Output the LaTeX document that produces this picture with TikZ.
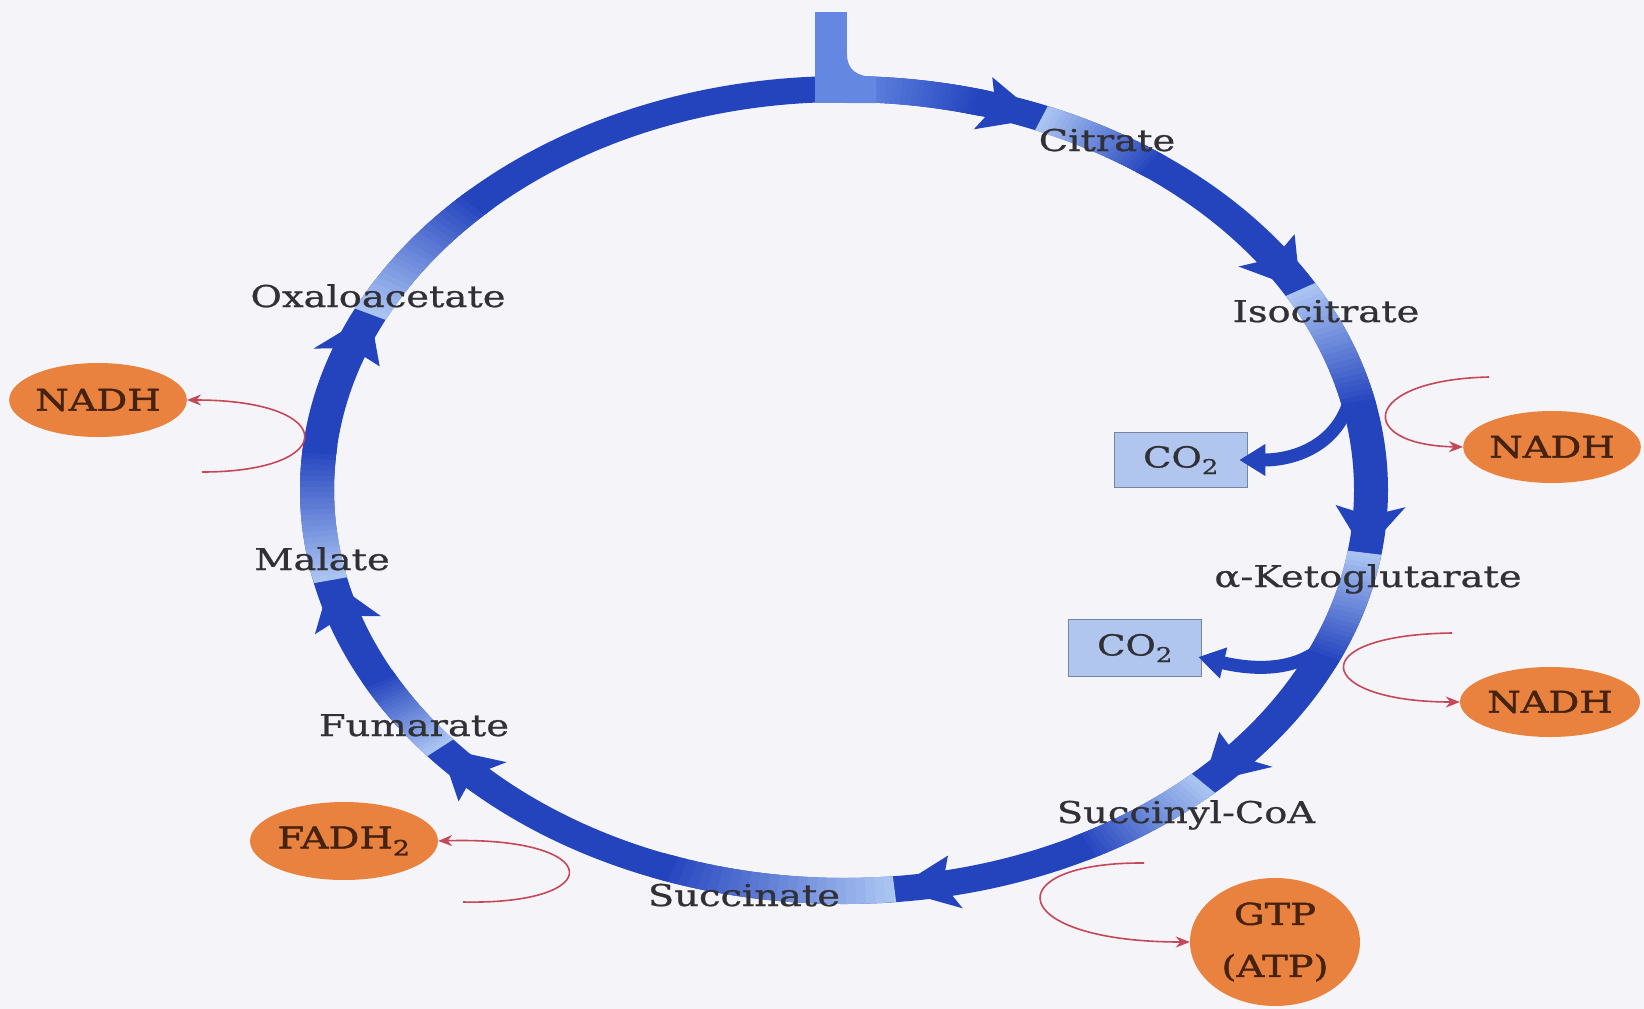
\documentclass[tikz,border=0pt]{standalone}
\usepackage{fontspec}
\setmainfont[FakeStretch=1.28, FakeBold=0.8]{DejaVu Serif}
\newfontfamily\carrierfont[FakeStretch=1.28, FakeBold=1.6]{DejaVu Serif}
\usetikzlibrary{calc,shapes.geometric,arrows.meta}

\definecolor{paper}{RGB}{245,245,249}
\definecolor{ringdark}{RGB}{36,68,190}
\definecolor{ringmid}{RGB}{100,136,225}
\definecolor{ringlight}{RGB}{170,196,242}
\definecolor{labelgray}{RGB}{48,48,54}
\definecolor{carrier}{RGB}{233,130,62}
\definecolor{carriertext}{RGB}{70,34,16}
\definecolor{gasfill}{RGB}{176,198,238}
\definecolor{gasedge}{RGB}{120,132,160}
\definecolor{redox}{RGB}{196,72,88}

% ring geometry: centre, radii of the centre line, half band widths
\def\RingCX{844}
\def\RingCY{490}
\def\RingRX{527}
\def\RingRY{401}
\def\RingHX{17}
\def\RingHY{13}

% one quadrilateral piece of the band between two angles
\newcommand{\ringpiece}[3]{%
  \fill[#3]
    ({\RingCX+(\RingRX+\RingHX)*cos(#1)},{\RingCY+(\RingRY+\RingHY)*sin(#1)}) --
    ({\RingCX+(\RingRX+\RingHX)*cos(#2)},{\RingCY+(\RingRY+\RingHY)*sin(#2)}) --
    ({\RingCX+(\RingRX-\RingHX)*cos(#2)},{\RingCY+(\RingRY-\RingHY)*sin(#2)}) --
    ({\RingCX+(\RingRX-\RingHX)*cos(#1)},{\RingCY+(\RingRY-\RingHY)*sin(#1)}) -- cycle;}

% colour fade along the band from angle #1 (colour #3) to angle #2 (colour #4)
\newcommand{\ringfade}[4]{%
  \foreach \k in {0,...,23} {
    \pgfmathsetmacro\ta{#1+(#2-#1)*\k/24}
    \pgfmathsetmacro\tb{#1+(#2-#1)*(\k+1.7)/24}
    \pgfmathtruncatemacro\pc{100*\k/23}
    \ringpiece{\ta}{\tb}{#4!\pc!#3}
  }}

% arrow head on the band, tip at angle #1
\newcommand{\ringhead}[1]{%
  \pgfmathsetmacro\tbk{#1-6.7}
  \pgfmathsetmacro\tnt{#1-5.3}
  \fill[ringdark]
    ({\RingCX+\RingRX*cos(#1)},{\RingCY+\RingRY*sin(#1)}) --
    ({\RingCX+(\RingRX+35)*cos(\tbk)},{\RingCY+(\RingRY+27)*sin(\tbk)}) --
    ({\RingCX+\RingRX*cos(\tnt)},{\RingCY+\RingRY*sin(\tnt)}) --
    ({\RingCX+(\RingRX-35)*cos(\tbk)},{\RingCY+(\RingRY-27)*sin(\tbk)}) -- cycle;}

\begin{document}
\begin{tikzpicture}[x=1pt,y=-1pt,
  lbl/.style={font=\fontsize{30}{36}\selectfont, text=labelgray, inner sep=0pt},
  carrierbox/.style={ellipse, fill=carrier, inner sep=0pt, text=carriertext,
    font=\carrierfont\fontsize{30}{36}\selectfont},
  gasbox/.style={rectangle, fill=gasfill, draw=gasedge, line width=1.5pt,
    inner sep=0pt, text=labelgray, font=\fontsize{29}{34}\selectfont},
  branch/.style={draw=ringdark, line width=13pt, -{Triangle[length=26pt,width=30pt]}},
  redarrow/.style={draw=redox, line width=1.6pt, -{Stealth[length=14pt,width=11pt]}}]

\useasboundingbox (0,0) rectangle (1644,1009);
\fill[paper] (0,0) rectangle (1644,1009);

% the cycle band
\fill[ringdark, even odd rule]
  (\RingCX,\RingCY) ellipse [x radius=544pt, y radius=414pt]
  (\RingCX,\RingCY) ellipse [x radius=510pt, y radius=388pt];

% CO2 branches leave the band
\node[gasbox, minimum width=133pt, minimum height=55pt] (co2a) at (1181,460) {CO\textsubscript{2}};
\node[gasbox, minimum width=133pt, minimum height=57pt] (co2b) at (1135,648) {CO\textsubscript{2}};
\coordinate (b1) at (1354,372);
\coordinate (b2) at (1342,620);
\draw[branch] (b1) .. controls (1352,440) and (1300,460) .. ([xshift=-9pt]co2a.east);
\draw[branch] (b2) .. controls (1318,672) and (1262,672) .. ([shift={(-4,9)}]co2b.east);

% pale starts of each step
\ringfade{206}{226}{ringlight}{ringdark}
\ringfade{271}{285}{ringmid}{ringdark}
\ringfade{292}{306}{ringlight}{ringdark}
\ringfade{330}{348}{ringlight}{ringdark}
\ringfade{369}{385}{ringlight}{ringdark}
\ringfade{407}{423}{ringlight}{ringdark}
\ringfade{444.5}{470}{ringlight}{ringdark}
\ringfade{500}{512}{ringlight}{ringdark}
\ringfade{527}{546}{ringlight}{ringdark}

% entry from the top
\fill[ringmid] (815,12) rectangle (847,103);
\fill[ringmid] (847,54) .. controls (847,70) and (857,77) .. (876,77) -- (876,103) -- (847,103) -- cycle;

% arrow heads
\foreach \t in {292,330,369,407,444.5,500,527,566} { \ringhead{\t} }

% intermediates
\node[lbl, anchor=base] (oxa) at (378,307) {Oxaloacetate};
\node[lbl, anchor=base] (cit) at (1107,151) {Citrate};
\node[lbl, anchor=base] (iso) at (1326,322) {Isocitrate};
\node[lbl, anchor=base] (akg) at (1368,587) {α-Ketoglutarate};
\node[lbl, anchor=base] (sca) at (1186,823) {Succinyl-CoA};
\node[lbl, anchor=base] (suc) at (744,906) {Succinate};
\node[lbl, anchor=base] (fum) at (414,736) {Fumarate};
\node[lbl, anchor=base] (mal) at (322,570) {Malate};

% carriers
\node[carrierbox, minimum width=172pt, minimum height=74pt] (nadhA) at (98,400) {NADH};
\node[carrierbox, minimum width=177pt, minimum height=72pt] (nadhB) at (1552,447) {NADH};
\node[carrierbox, minimum width=180pt, minimum height=70pt] (nadhC) at (1550,702) {NADH};
\node[carrierbox, minimum width=180pt, minimum height=78pt] (fadh) at (344,841) {FADH\textsubscript{2}};
\node[carrierbox, minimum width=170pt, minimum height=128pt, align=center,
  font=\carrierfont\fontsize{30}{52}\selectfont] (gtp) at (1275,942) {GTP\\(ATP)};

% coupling arrows
\coordinate (s1) at (202,472);
\coordinate (s2) at (1489,377);
\coordinate (s3) at (1452,633);
\coordinate (s4) at (1144,863);
\coordinate (s5) at (463,902);
\draw[redarrow] (s1) .. controls (340,472) and (340,400) .. (nadhA.east);
\draw[redarrow] (s2) .. controls (1360,380) and (1355,445) .. (nadhB.west);
\draw[redarrow] (s3) .. controls (1300,635) and (1315,702) .. (nadhC.west);
\draw[redarrow] (s4) .. controls (995,862) and (1005,942) .. (gtp.west);
\draw[redarrow] (s5) .. controls (610,905) and (605,836) .. (fadh.east);
\end{tikzpicture}
\end{document}
